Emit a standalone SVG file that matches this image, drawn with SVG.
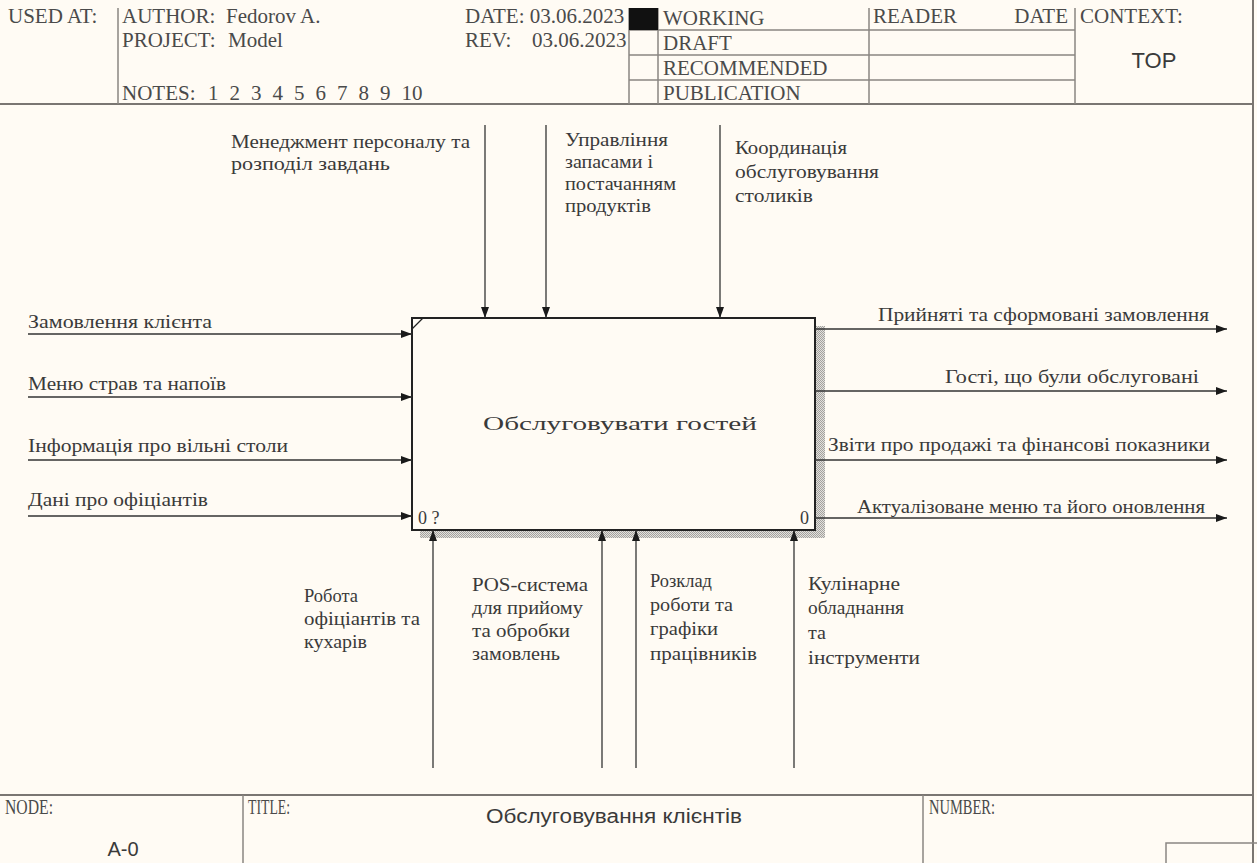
<svg xmlns="http://www.w3.org/2000/svg" width="1257" height="863" viewBox="0 0 1257 863">
<defs>
<style>
.bg{fill:#fffbf4}
.fr{stroke:#7a7672;stroke-width:2;fill:none}
.fr1{stroke:#8a8682;stroke-width:1.5;fill:none}
.c{font-family:"Tinos","Noto Serif","FreeSerif","DejaVu Serif Condensed","DejaVu Serif","Liberation Serif",serif;font-size:18px;fill:#3a3a3a}
.t{font-family:"Liberation Serif","Times New Roman",serif;font-size:18px;fill:#3a3a3a}
.h{font-family:"Liberation Serif","Times New Roman",serif;font-size:21px;fill:#4a4a4a}
.f{font-family:"Liberation Serif","Times New Roman",serif;font-size:20px;fill:#4a4a4a}
.s{font-family:"Liberation Sans",Arial,sans-serif;fill:#3a3a3a}
.ar{stroke:#333;stroke-width:1.3;fill:none}
.box{fill:#fffbf4;stroke:#222;stroke-width:2}
</style>
<marker id="ah" markerWidth="12" markerHeight="10" refX="11" refY="5" orient="auto" markerUnits="userSpaceOnUse">
<path d="M0,1 L11,5 L0,9 Z" fill="#1a1a1a"/>
</marker>
<pattern id="dots" width="2" height="2" patternUnits="userSpaceOnUse">
<rect width="2" height="2" fill="#e2e0dc"/>
<rect width="1" height="1" fill="#a4a29e"/>
<rect x="1" y="1" width="1" height="1" fill="#a4a29e"/>
</pattern>
</defs>
<rect class="bg" x="0" y="0" width="1257" height="863"/>

<g id="frame">
<line class="fr" x1="1253" y1="0" x2="1253" y2="863"/>
<line class="fr" x1="0" y1="104" x2="1253" y2="104"/>
<line class="fr" x1="0" y1="795" x2="1253" y2="795"/>
<line class="fr1" x1="118" y1="8" x2="118" y2="104"/>
<line class="fr1" x1="629" y1="8" x2="629" y2="104"/>
<line class="fr1" x1="658" y1="8" x2="658" y2="104"/>
<line class="fr1" x1="869" y1="8" x2="869" y2="104"/>
<line class="fr1" x1="1075" y1="8" x2="1075" y2="104"/>
<line class="fr1" x1="629" y1="30" x2="1075" y2="30"/>
<line class="fr1" x1="629" y1="55" x2="1075" y2="55"/>
<line class="fr1" x1="629" y1="80" x2="1075" y2="80"/>
<rect x="629" y="8" width="29" height="22" fill="#111"/>
<line class="fr1" x1="243" y1="795" x2="243" y2="863"/>
<line class="fr1" x1="923" y1="795" x2="923" y2="863"/>
<rect x="1166" y="843" width="92" height="30" fill="none" stroke="#8a8682" stroke-width="1.5"/>
</g>

<g id="header-text">
<text class="h" x="8" y="23">USED AT:</text>
<text class="h" x="122" y="23">AUTHOR:</text>
<text class="h" x="226" y="23">Fedorov A.</text>
<text class="h" x="122" y="47">PROJECT:</text>
<text class="h" x="228" y="47">Model</text>
<text class="h" x="122" y="100">NOTES:</text>
<text class="h" y="100" x="208 229.5 251 272.5 294 315.5 337 358.5 380">123456789</text>
<text class="h" x="401.5" y="100">10</text>
<text class="h" x="465" y="23">DATE: 03.06.2023</text>
<text class="h" x="465" y="47">REV:</text>
<text class="h" x="532" y="47">03.06.2023</text>
<text class="h" x="663" y="25">WORKING</text>
<text class="h" x="663" y="50">DRAFT</text>
<text class="h" x="663" y="75">RECOMMENDED</text>
<text class="h" x="663" y="100">PUBLICATION</text>
<text class="h" x="873" y="23">READER</text>
<text class="h" x="1068" y="23" text-anchor="end">DATE</text>
<text class="h" x="1080" y="23">CONTEXT:</text>
<text class="s" x="1154" y="68" font-size="22" text-anchor="middle">TOP</text>
</g>

<g id="footer-text">
<text class="f" x="5" y="814" textLength="48" lengthAdjust="spacingAndGlyphs">NODE:</text>
<text class="s" x="123" y="856" font-size="20" text-anchor="middle">A-0</text>
<text class="f" x="248" y="814" textLength="42" lengthAdjust="spacingAndGlyphs">TITLE:</text>
<text class="s" x="486" y="823" font-size="20" textLength="256" lengthAdjust="spacingAndGlyphs">Обслуговування клієнтів</text>
<text class="f" x="929" y="814" textLength="66" lengthAdjust="spacingAndGlyphs">NUMBER:</text>
</g>

<g id="node-A0">
<rect x="420" y="326" width="405" height="212" fill="url(#dots)"/>
<rect class="box" x="412" y="318" width="403" height="212"/>
<line x1="412" y1="329" x2="423" y2="318" stroke="#222" stroke-width="1.3"/>
<text class="c" x="483" y="430" font-size="23" textLength="274" lengthAdjust="spacingAndGlyphs">Обслуговувати гостей</text>
<text class="t" x="418" y="524">0 ?</text>
<text class="t" x="800" y="524">0</text>
</g>

<g id="connectors">
<line class="ar" x1="28" y1="334" x2="412" y2="334" marker-end="url(#ah)"/>
<line class="ar" x1="28" y1="397" x2="412" y2="397" marker-end="url(#ah)"/>
<line class="ar" x1="28" y1="460" x2="412" y2="460" marker-end="url(#ah)"/>
<line class="ar" x1="28" y1="516" x2="412" y2="516" marker-end="url(#ah)"/>
<line class="ar" x1="815" y1="329" x2="1227" y2="329" marker-end="url(#ah)"/>
<line class="ar" x1="815" y1="391" x2="1227" y2="391" marker-end="url(#ah)"/>
<line class="ar" x1="815" y1="460" x2="1227" y2="460" marker-end="url(#ah)"/>
<line class="ar" x1="815" y1="518" x2="1227" y2="518" marker-end="url(#ah)"/>
<line class="ar" x1="485" y1="125" x2="485" y2="318" marker-end="url(#ah)"/>
<line class="ar" x1="546" y1="125" x2="546" y2="318" marker-end="url(#ah)"/>
<line class="ar" x1="720" y1="125" x2="720" y2="318" marker-end="url(#ah)"/>
<line class="ar" x1="433" y1="768" x2="433" y2="530" marker-end="url(#ah)"/>
<line class="ar" x1="602" y1="768" x2="602" y2="530" marker-end="url(#ah)"/>
<line class="ar" x1="636" y1="768" x2="636" y2="530" marker-end="url(#ah)"/>
<line class="ar" x1="794" y1="768" x2="794" y2="530" marker-end="url(#ah)"/>
</g>

<g id="labels">
<text class="c" x="28" y="328" textLength="184" lengthAdjust="spacingAndGlyphs">Замовлення клієнта</text>
<text class="c" x="28" y="390" textLength="198" lengthAdjust="spacingAndGlyphs">Меню страв та напоїв</text>
<text class="c" x="28" y="452" textLength="260" lengthAdjust="spacingAndGlyphs">Інформація про вільні столи</text>
<text class="c" x="28" y="506" textLength="180" lengthAdjust="spacingAndGlyphs">Дані про офіціантів</text>
<text class="c" x="878" y="321" textLength="331" lengthAdjust="spacingAndGlyphs">Прийняті та сформовані замовлення</text>
<text class="c" x="945" y="383" textLength="254" lengthAdjust="spacingAndGlyphs">Гості, що були обслуговані</text>
<text class="c" x="828" y="451" textLength="382" lengthAdjust="spacingAndGlyphs">Звіти про продажі та фінансові показники</text>
<text class="c" x="857" y="513" textLength="348" lengthAdjust="spacingAndGlyphs">Актуалізоване меню та його оновлення</text>
<text class="c" x="231" y="148" textLength="239" lengthAdjust="spacingAndGlyphs">Менеджмент персоналу та</text>
<text class="c" x="231" y="170" textLength="159" lengthAdjust="spacingAndGlyphs">розподіл завдань</text>
<text class="c" x="565" y="146" textLength="103" lengthAdjust="spacingAndGlyphs">Управління</text>
<text class="c" x="565" y="168" textLength="88" lengthAdjust="spacingAndGlyphs">запасами і</text>
<text class="c" x="565" y="190" textLength="111" lengthAdjust="spacingAndGlyphs">постачанням</text>
<text class="c" x="565" y="212" textLength="86" lengthAdjust="spacingAndGlyphs">продуктів</text>
<text class="c" x="735" y="154" textLength="112" lengthAdjust="spacingAndGlyphs">Координація</text>
<text class="c" x="735" y="178" textLength="144" lengthAdjust="spacingAndGlyphs">обслуговування</text>
<text class="c" x="735" y="202" textLength="78" lengthAdjust="spacingAndGlyphs">столиків</text>
<text class="c" x="304" y="602" textLength="54" lengthAdjust="spacingAndGlyphs">Робота</text>
<text class="c" x="304" y="625" textLength="116" lengthAdjust="spacingAndGlyphs">офіціантів та</text>
<text class="c" x="304" y="648" textLength="63" lengthAdjust="spacingAndGlyphs">кухарів</text>
<text class="c" x="472" y="591" textLength="116" lengthAdjust="spacingAndGlyphs">POS-система</text>
<text class="c" x="472" y="614" textLength="111" lengthAdjust="spacingAndGlyphs">для прийому</text>
<text class="c" x="472" y="637" textLength="98" lengthAdjust="spacingAndGlyphs">та обробки</text>
<text class="c" x="472" y="660" textLength="88" lengthAdjust="spacingAndGlyphs">замовлень</text>
<text class="c" x="650" y="587" textLength="62" lengthAdjust="spacingAndGlyphs">Розклад</text>
<text class="c" x="650" y="611" textLength="83" lengthAdjust="spacingAndGlyphs">роботи та</text>
<text class="c" x="650" y="635" textLength="68" lengthAdjust="spacingAndGlyphs">графіки</text>
<text class="c" x="650" y="660" textLength="107" lengthAdjust="spacingAndGlyphs">працівників</text>
<text class="c" x="808" y="590" textLength="92" lengthAdjust="spacingAndGlyphs">Кулінарне</text>
<text class="c" x="808" y="614" textLength="96" lengthAdjust="spacingAndGlyphs">обладнання</text>
<text class="c" x="808" y="639" textLength="18" lengthAdjust="spacingAndGlyphs">та</text>
<text class="c" x="808" y="664" textLength="112" lengthAdjust="spacingAndGlyphs">інструменти</text>
</g>
</svg>
